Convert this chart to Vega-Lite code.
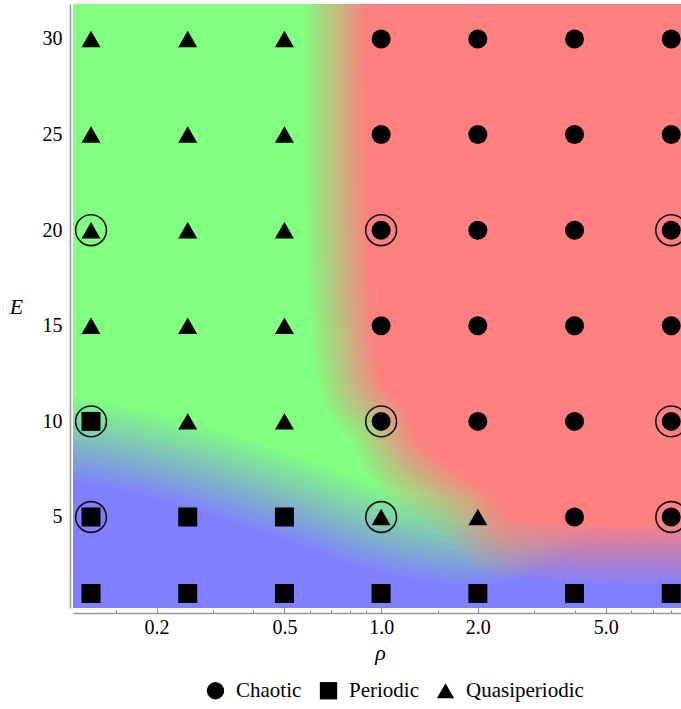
{
  "$schema": "https://vega.github.io/schema/vega-lite/v6.json",
  "width": 608,
  "height": 604,
  "autosize": {"type": "none"},
  "padding": {"left": 73, "top": 4, "right": 0, "bottom": 101},
  "background": "white",
  "config": {
    "view": {"fill": "#80FF80", "stroke": null},
    "font": "Liberation Serif"
  },
  "datasets": {
    "periodicEdge": [
      {"rho": 0.05, "E": 7.5},
      {"rho": 0.1, "E": 7.08},
      {"rho": 0.2365, "E": 5.68},
      {"rho": 0.4675, "E": 4.06},
      {"rho": 0.944, "E": 2.28},
      {"rho": 2.03, "E": 1.45},
      {"rho": 3.15, "E": 2.34},
      {"rho": 4.34, "E": 3.59},
      {"rho": 9, "E": 4.06},
      {"rho": 30, "E": 4.1}
    ],
    "chaoticEdge": [
      {"E": 4.53, "rho": 30},
      {"E": 4.69, "rho": 4.22},
      {"E": 5.0, "rho": 2.5},
      {"E": 6.26, "rho": 2.15},
      {"E": 8.56, "rho": 1.36},
      {"E": 10.81, "rho": 1.154},
      {"E": 12.17, "rho": 0.992},
      {"E": 16.35, "rho": 0.923},
      {"E": 24.19, "rho": 0.891},
      {"E": 40, "rho": 0.879}
    ],
    "runs": [
      {"rho": 0.125, "E": 30, "type": "Quasiperiodic", "ring": false},
      {"rho": 0.25, "E": 30, "type": "Quasiperiodic", "ring": false},
      {"rho": 0.5, "E": 30, "type": "Quasiperiodic", "ring": false},
      {"rho": 1, "E": 30, "type": "Chaotic", "ring": false},
      {"rho": 2, "E": 30, "type": "Chaotic", "ring": false},
      {"rho": 4, "E": 30, "type": "Chaotic", "ring": false},
      {"rho": 8, "E": 30, "type": "Chaotic", "ring": false},
      {"rho": 0.125, "E": 25, "type": "Quasiperiodic", "ring": false},
      {"rho": 0.25, "E": 25, "type": "Quasiperiodic", "ring": false},
      {"rho": 0.5, "E": 25, "type": "Quasiperiodic", "ring": false},
      {"rho": 1, "E": 25, "type": "Chaotic", "ring": false},
      {"rho": 2, "E": 25, "type": "Chaotic", "ring": false},
      {"rho": 4, "E": 25, "type": "Chaotic", "ring": false},
      {"rho": 8, "E": 25, "type": "Chaotic", "ring": false},
      {"rho": 0.125, "E": 20, "type": "Quasiperiodic", "ring": true},
      {"rho": 0.25, "E": 20, "type": "Quasiperiodic", "ring": false},
      {"rho": 0.5, "E": 20, "type": "Quasiperiodic", "ring": false},
      {"rho": 1, "E": 20, "type": "Chaotic", "ring": true},
      {"rho": 2, "E": 20, "type": "Chaotic", "ring": false},
      {"rho": 4, "E": 20, "type": "Chaotic", "ring": false},
      {"rho": 8, "E": 20, "type": "Chaotic", "ring": true},
      {"rho": 0.125, "E": 15, "type": "Quasiperiodic", "ring": false},
      {"rho": 0.25, "E": 15, "type": "Quasiperiodic", "ring": false},
      {"rho": 0.5, "E": 15, "type": "Quasiperiodic", "ring": false},
      {"rho": 1, "E": 15, "type": "Chaotic", "ring": false},
      {"rho": 2, "E": 15, "type": "Chaotic", "ring": false},
      {"rho": 4, "E": 15, "type": "Chaotic", "ring": false},
      {"rho": 8, "E": 15, "type": "Chaotic", "ring": false},
      {"rho": 0.125, "E": 10, "type": "Periodic", "ring": true},
      {"rho": 0.25, "E": 10, "type": "Quasiperiodic", "ring": false},
      {"rho": 0.5, "E": 10, "type": "Quasiperiodic", "ring": false},
      {"rho": 1, "E": 10, "type": "Chaotic", "ring": true},
      {"rho": 2, "E": 10, "type": "Chaotic", "ring": false},
      {"rho": 4, "E": 10, "type": "Chaotic", "ring": false},
      {"rho": 8, "E": 10, "type": "Chaotic", "ring": true},
      {"rho": 0.125, "E": 5, "type": "Periodic", "ring": true},
      {"rho": 0.25, "E": 5, "type": "Periodic", "ring": false},
      {"rho": 0.5, "E": 5, "type": "Periodic", "ring": false},
      {"rho": 1, "E": 5, "type": "Quasiperiodic", "ring": true},
      {"rho": 2, "E": 5, "type": "Quasiperiodic", "ring": false},
      {"rho": 4, "E": 5, "type": "Chaotic", "ring": false},
      {"rho": 8, "E": 5, "type": "Chaotic", "ring": true},
      {"rho": 0.125, "E": 1, "type": "Periodic", "ring": false},
      {"rho": 0.25, "E": 1, "type": "Periodic", "ring": false},
      {"rho": 0.5, "E": 1, "type": "Periodic", "ring": false},
      {"rho": 1, "E": 1, "type": "Periodic", "ring": false},
      {"rho": 2, "E": 1, "type": "Periodic", "ring": false},
      {"rho": 4, "E": 1, "type": "Periodic", "ring": false},
      {"rho": 8, "E": 1, "type": "Periodic", "ring": false}
    ]
  },
  "encoding": {
    "x": {
      "field": "rho",
      "type": "quantitative",
      "scale": {"type": "log", "domain": [0.10985, 8.58], "nice": false, "zero": false},
      "axis": {
        "title": "ρ",
        "titleFont": "Liberation Serif",
        "titleFontStyle": "italic",
        "titleFontWeight": "normal",
        "titleFontSize": 22,
        "titleColor": "black",
        "titleX": 307,
        "titleY": 46,
        "titleAlign": "center",
        "titleBaseline": "alphabetic",
        "values": [0.15, 0.2, 0.3, 0.4, 0.5, 0.6, 0.7, 0.8, 0.9, 1, 1.5, 2, 3, 4, 5, 6, 7, 8],
        "labelExpr": "indexof([0.2, 0.5, 1, 2, 5], datum.value) >= 0 ? format(datum.value, '.1f') : ''",
        "labelFont": "Liberation Serif",
        "labelFontSize": 20,
        "labelColor": "black",
        "labelPadding": 9,
        "labelOverlap": false,
        "labelFlush": false,
        "labelBound": false,
        "tickSize": {"condition": {"test": "indexof([0.2, 0.5, 1, 2, 5], datum.value) >= 0", "value": -5}, "value": -3},
        "tickColor": "#888888",
        "domainColor": "#999999",
        "domainWidth": 1.5,
        "offset": 5,
        "grid": false
      }
    },
    "y": {
      "field": "E",
      "type": "quantitative",
      "scale": {"domain": [0.24, 31.83], "nice": false, "zero": false},
      "axis": {
        "title": "E",
        "titleAngle": 0,
        "titleFont": "Liberation Serif",
        "titleFontStyle": "italic",
        "titleFontWeight": "normal",
        "titleFontSize": 22,
        "titleColor": "black",
        "titleX": -54,
        "titleY": 302,
        "titleAlign": "center",
        "titleBaseline": "middle",
        "values": [5, 10, 15, 20, 25, 30],
        "ticks": false,
        "labelFont": "Liberation Serif",
        "labelFontSize": 20,
        "labelColor": "black",
        "labelPadding": 8,
        "domainColor": "#999999",
        "domainWidth": 1.5,
        "offset": 3,
        "grid": false
      }
    }
  },
  "layer": [
    {"data": {"name": "periodicEdge"}, "mark": {"type": "area", "clip": true, "interpolate": "monotone", "fill": "#8080FF", "fillOpacity": 1}, "encoding": {"y2": {"datum": -5}}},
    {"data": {"name": "periodicEdge"}, "mark": {"type": "area", "clip": true, "interpolate": "monotone", "fill": "#8080FF", "fillOpacity": 0, "stroke": "#8080FF", "strokeJoin": "round", "strokeWidth": 160, "strokeOpacity": 0.0769}, "encoding": {"y2": {"datum": -5}}},
    {"data": {"name": "periodicEdge"}, "mark": {"type": "area", "clip": true, "interpolate": "monotone", "fill": "#8080FF", "fillOpacity": 0, "stroke": "#8080FF", "strokeJoin": "round", "strokeWidth": 146.7, "strokeOpacity": 0.0833}, "encoding": {"y2": {"datum": -5}}},
    {"data": {"name": "periodicEdge"}, "mark": {"type": "area", "clip": true, "interpolate": "monotone", "fill": "#8080FF", "fillOpacity": 0, "stroke": "#8080FF", "strokeJoin": "round", "strokeWidth": 133.3, "strokeOpacity": 0.0909}, "encoding": {"y2": {"datum": -5}}},
    {"data": {"name": "periodicEdge"}, "mark": {"type": "area", "clip": true, "interpolate": "monotone", "fill": "#8080FF", "fillOpacity": 0, "stroke": "#8080FF", "strokeJoin": "round", "strokeWidth": 120, "strokeOpacity": 0.1}, "encoding": {"y2": {"datum": -5}}},
    {"data": {"name": "periodicEdge"}, "mark": {"type": "area", "clip": true, "interpolate": "monotone", "fill": "#8080FF", "fillOpacity": 0, "stroke": "#8080FF", "strokeJoin": "round", "strokeWidth": 106.7, "strokeOpacity": 0.1111}, "encoding": {"y2": {"datum": -5}}},
    {"data": {"name": "periodicEdge"}, "mark": {"type": "area", "clip": true, "interpolate": "monotone", "fill": "#8080FF", "fillOpacity": 0, "stroke": "#8080FF", "strokeJoin": "round", "strokeWidth": 93.3, "strokeOpacity": 0.125}, "encoding": {"y2": {"datum": -5}}},
    {"data": {"name": "periodicEdge"}, "mark": {"type": "area", "clip": true, "interpolate": "monotone", "fill": "#8080FF", "fillOpacity": 0, "stroke": "#8080FF", "strokeJoin": "round", "strokeWidth": 80, "strokeOpacity": 0.1429}, "encoding": {"y2": {"datum": -5}}},
    {"data": {"name": "periodicEdge"}, "mark": {"type": "area", "clip": true, "interpolate": "monotone", "fill": "#8080FF", "fillOpacity": 0, "stroke": "#8080FF", "strokeJoin": "round", "strokeWidth": 66.7, "strokeOpacity": 0.1667}, "encoding": {"y2": {"datum": -5}}},
    {"data": {"name": "periodicEdge"}, "mark": {"type": "area", "clip": true, "interpolate": "monotone", "fill": "#8080FF", "fillOpacity": 0, "stroke": "#8080FF", "strokeJoin": "round", "strokeWidth": 53.3, "strokeOpacity": 0.2}, "encoding": {"y2": {"datum": -5}}},
    {"data": {"name": "periodicEdge"}, "mark": {"type": "area", "clip": true, "interpolate": "monotone", "fill": "#8080FF", "fillOpacity": 0, "stroke": "#8080FF", "strokeJoin": "round", "strokeWidth": 40, "strokeOpacity": 0.25}, "encoding": {"y2": {"datum": -5}}},
    {"data": {"name": "periodicEdge"}, "mark": {"type": "area", "clip": true, "interpolate": "monotone", "fill": "#8080FF", "fillOpacity": 0, "stroke": "#8080FF", "strokeJoin": "round", "strokeWidth": 26.7, "strokeOpacity": 0.3333}, "encoding": {"y2": {"datum": -5}}},
    {"data": {"name": "periodicEdge"}, "mark": {"type": "area", "clip": true, "interpolate": "monotone", "fill": "#8080FF", "fillOpacity": 0, "stroke": "#8080FF", "strokeJoin": "round", "strokeWidth": 13.3, "strokeOpacity": 0.5}, "encoding": {"y2": {"datum": -5}}},

    {"data": {"name": "chaoticEdge"}, "mark": {"type": "area", "orient": "horizontal", "clip": true, "interpolate": "monotone", "fill": "#FF8080", "fillOpacity": 1}, "encoding": {"x2": {"datum": 40}}},
    {"data": {"name": "chaoticEdge"}, "mark": {"type": "area", "orient": "horizontal", "clip": true, "interpolate": "monotone", "fill": "#FF8080", "fillOpacity": 0, "stroke": "#FF8080", "strokeJoin": "round", "strokeWidth": 120, "strokeOpacity": 0.0769}, "encoding": {"x2": {"datum": 40}}},
    {"data": {"name": "chaoticEdge"}, "mark": {"type": "area", "orient": "horizontal", "clip": true, "interpolate": "monotone", "fill": "#FF8080", "fillOpacity": 0, "stroke": "#FF8080", "strokeJoin": "round", "strokeWidth": 110, "strokeOpacity": 0.0833}, "encoding": {"x2": {"datum": 40}}},
    {"data": {"name": "chaoticEdge"}, "mark": {"type": "area", "orient": "horizontal", "clip": true, "interpolate": "monotone", "fill": "#FF8080", "fillOpacity": 0, "stroke": "#FF8080", "strokeJoin": "round", "strokeWidth": 100, "strokeOpacity": 0.0909}, "encoding": {"x2": {"datum": 40}}},
    {"data": {"name": "chaoticEdge"}, "mark": {"type": "area", "orient": "horizontal", "clip": true, "interpolate": "monotone", "fill": "#FF8080", "fillOpacity": 0, "stroke": "#FF8080", "strokeJoin": "round", "strokeWidth": 90, "strokeOpacity": 0.1}, "encoding": {"x2": {"datum": 40}}},
    {"data": {"name": "chaoticEdge"}, "mark": {"type": "area", "orient": "horizontal", "clip": true, "interpolate": "monotone", "fill": "#FF8080", "fillOpacity": 0, "stroke": "#FF8080", "strokeJoin": "round", "strokeWidth": 80, "strokeOpacity": 0.1111}, "encoding": {"x2": {"datum": 40}}},
    {"data": {"name": "chaoticEdge"}, "mark": {"type": "area", "orient": "horizontal", "clip": true, "interpolate": "monotone", "fill": "#FF8080", "fillOpacity": 0, "stroke": "#FF8080", "strokeJoin": "round", "strokeWidth": 70, "strokeOpacity": 0.125}, "encoding": {"x2": {"datum": 40}}},
    {"data": {"name": "chaoticEdge"}, "mark": {"type": "area", "orient": "horizontal", "clip": true, "interpolate": "monotone", "fill": "#FF8080", "fillOpacity": 0, "stroke": "#FF8080", "strokeJoin": "round", "strokeWidth": 60, "strokeOpacity": 0.1429}, "encoding": {"x2": {"datum": 40}}},
    {"data": {"name": "chaoticEdge"}, "mark": {"type": "area", "orient": "horizontal", "clip": true, "interpolate": "monotone", "fill": "#FF8080", "fillOpacity": 0, "stroke": "#FF8080", "strokeJoin": "round", "strokeWidth": 50, "strokeOpacity": 0.1667}, "encoding": {"x2": {"datum": 40}}},
    {"data": {"name": "chaoticEdge"}, "mark": {"type": "area", "orient": "horizontal", "clip": true, "interpolate": "monotone", "fill": "#FF8080", "fillOpacity": 0, "stroke": "#FF8080", "strokeJoin": "round", "strokeWidth": 40, "strokeOpacity": 0.2}, "encoding": {"x2": {"datum": 40}}},
    {"data": {"name": "chaoticEdge"}, "mark": {"type": "area", "orient": "horizontal", "clip": true, "interpolate": "monotone", "fill": "#FF8080", "fillOpacity": 0, "stroke": "#FF8080", "strokeJoin": "round", "strokeWidth": 30, "strokeOpacity": 0.25}, "encoding": {"x2": {"datum": 40}}},
    {"data": {"name": "chaoticEdge"}, "mark": {"type": "area", "orient": "horizontal", "clip": true, "interpolate": "monotone", "fill": "#FF8080", "fillOpacity": 0, "stroke": "#FF8080", "strokeJoin": "round", "strokeWidth": 20, "strokeOpacity": 0.3333}, "encoding": {"x2": {"datum": 40}}},
    {"data": {"name": "chaoticEdge"}, "mark": {"type": "area", "orient": "horizontal", "clip": true, "interpolate": "monotone", "fill": "#FF8080", "fillOpacity": 0, "stroke": "#FF8080", "strokeJoin": "round", "strokeWidth": 10, "strokeOpacity": 0.5}, "encoding": {"x2": {"datum": 40}}},

    {
      "data": {"name": "runs"},
      "transform": [{"filter": "datum.ring"}],
      "mark": {"type": "point", "shape": "circle", "filled": false, "stroke": "#111111", "strokeWidth": 1.6, "size": 950, "opacity": 1, "clip": true}
    },
    {
      "data": {"name": "runs"},
      "mark": {"type": "point", "filled": true, "color": "black", "size": 361, "opacity": 1, "clip": true},
      "encoding": {
        "shape": {
          "field": "type",
          "type": "nominal",
          "scale": {"domain": ["Chaotic", "Periodic", "Quasiperiodic"], "range": ["circle", "square", "triangle-up"]},
          "legend": {
            "orient": "none",
            "legendX": 132,
            "legendY": 676,
            "direction": "horizontal",
            "title": null,
            "padding": 0,
            "labelFont": "Liberation Serif",
            "labelFontSize": 21,
            "labelColor": "black",
            "labelOffset": 10,
            "columnPadding": 16,
            "symbolSize": 300,
            "symbolFillColor": "black",
            "symbolStrokeColor": "black",
            "symbolStrokeWidth": 0,
            "symbolOpacity": 1
          }
        }
      }
    }
  ]
}
